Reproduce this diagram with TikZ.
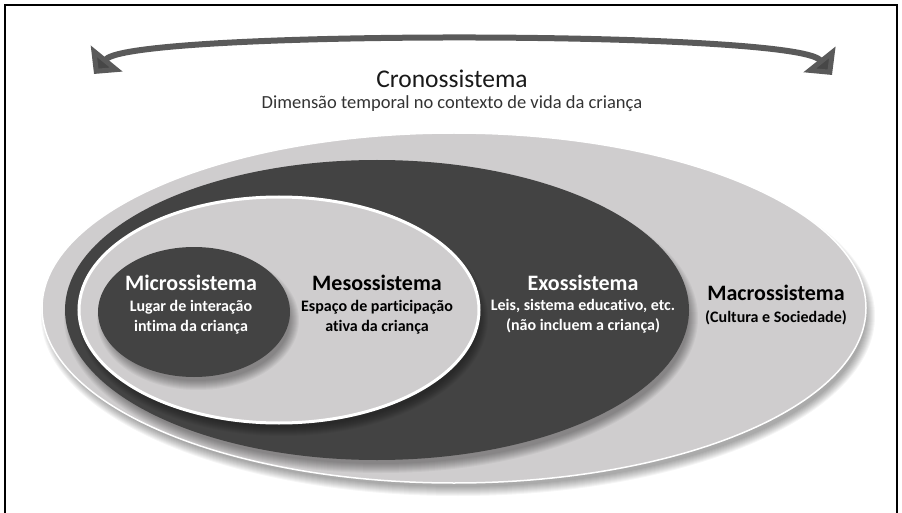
\documentclass[tikz,border=0pt]{standalone}
\usepackage{fontspec}
\setmainfont{Carlito}[Ligatures=NoCommon]
\usetikzlibrary{arrows.meta}

\definecolor{lightsys}{HTML}{CFCDCE}
\definecolor{darksys}{HTML}{434343}
\definecolor{arrowgray}{HTML}{5A5A5A}

\def\macroellipse{(454,308) ellipse (412 and 175)}
\def\exoellipse{(377,310) ellipse (312 and 150)}
\def\mesoellipse{(279,310) ellipse (200 and 113)}
\def\microellipse{(194,312) ellipse (96 and 65)}

% soft shadow: centre x, centre y, x radius, y radius
\newcommand\softshadow[4]{%
  \foreach \k in {0,...,9}
    \fill[black, opacity=0.04] (#1+4,#2+8) ellipse ({#3+\k-4} and {#4+\k-4});
}

\tikzset{
  syslabel/.style={font=\bfseries\fontsize{22}{24}\selectfont},
  sysnote/.style={font=\bfseries\fontsize{16}{20}\selectfont, align=center},
  timearrow/.style={arrowgray, line width=6pt,
    {Triangle[length=20pt,width=40pt,fill=black!72]}-{Triangle[length=20pt,width=40pt,fill=black!72]}}
}

\begin{document}
\begin{tikzpicture}[x=1pt, y=-1pt]
  \useasboundingbox (0,0) rectangle (902,513);
  \draw[line width=1.5pt] (5,513) -- (5,5) -- (897,5) -- (897,513);

  % time arrow
  \coordinate (past) at (94,74);
  \coordinate (future) at (832,75);
  \draw[timearrow] (past) .. controls (130,30) and (796,30) .. (future);

  \node[text=black!90] (crono) at (452,79) {\fontsize{25.5}{28}\selectfont Cronossistema};
  \node[text=black!80] (cronodesc) at (452,104) {\fontsize{18.5}{20}\selectfont Dimensão temporal no contexto de vida da criança};

  % macro
  \softshadow{454}{308}{412}{175}
  \fill[lightsys, draw=white, line width=1.5pt] \macroellipse;

  % exo
  \softshadow{377}{310}{312}{150}
  \fill[darksys] \exoellipse;

  % meso
  \softshadow{279}{310}{200}{113}
  \fill[lightsys, draw=white, line width=3pt] \mesoellipse;

  % micro
  \softshadow{194}{312}{96}{65}
  \fill[darksys] \microellipse;

  \node[syslabel, text=white] (micro) at (191,283) {Microssistema};
  \node[sysnote, text=white] (micronote) at (191,317) {Lugar de interação\\intima da criança};

  \node[syslabel] (meso) at (377,283) {Mesossistema};
  \node[sysnote] (mesonote) at (377,317) {Espaço de participação\\ativa da criança};

  \node[syslabel, text=white] (exo) at (583,283) {Exossistema};
  \node[sysnote, text=white] (exonote) at (583,316) {Leis, sistema educativo, etc.\\(não incluem a criança)};

  \node[syslabel] (macro) at (776,293) {Macrossistema};
  \node[sysnote] (macronote) at (776,318) {(Cultura e Sociedade)};
\end{tikzpicture}
\end{document}
